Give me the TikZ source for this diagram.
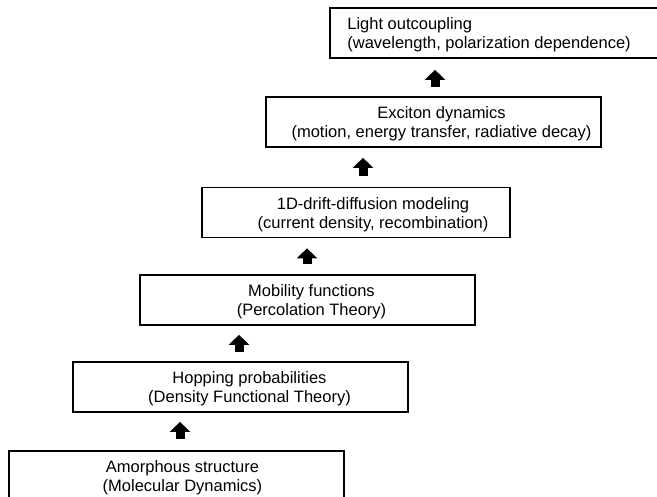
\documentclass[tikz,border=0pt]{standalone}
\usepackage{fontspec}
\setmainfont{Liberation Sans}
\usetikzlibrary{arrows.meta,calc}
\begin{document}
\begin{tikzpicture}[x=1pt,y=1pt,
  box/.style={draw=black, line width=1.7pt, rectangle, minimum height=50pt, inner sep=0pt},
  txt/.style={inner sep=0pt, align=center, font=\fontsize{16.5}{19}\selectfont},
  blk/.style={line width=9pt, -{Triangle[width=20pt,length=10pt]}, black}]
\useasboundingbox (0,0) rectangle (657,497);
\clip (0,0) rectangle (657,497);
% boxes
\node[box, minimum width=335pt] (b1) at (176.5,21) {};
\node[box, minimum width=335pt] (b2) at (240.5,110) {};
\node[box, minimum width=335pt] (b3) at (307.5,197) {};
\node[box, minimum width=308pt] (b4) at (356,284.5) {};
\node[box, minimum width=335pt] (b5) at (433.5,375) {};
\node[box, minimum width=335pt] (b6) at (497.5,464) {};
% texts
\node[txt] (t1) at ($(b1.center)+(6,-2)$) {Amorphous structure\\(Molecular Dynamics)};
\node[txt] (t2) at ($(b2.center)+(9,-2)$) {Hopping probabilities\\(Density Functional Theory)};
\node[txt] (t3) at ($(b3.center)+(4,-2)$) {Mobility functions\\(Percolation Theory)};
\node[txt] (t4) at ($(b4.center)+(17,-2)$) {1D-drift-diffusion modeling\\(current density, recombination)};
\node[txt] (t5) at ($(b5.center)+(8,-2)$) {Exciton dynamics\\(motion, energy transfer, radiative decay)};
\node[txt, align=left, anchor=west] (t6) at ($(b6.west)+(18,-2)$) {Light outcoupling\\(wavelength, polarization dependence)};
% block arrows
\draw[blk] ($(b1.north)+(3.5,11)$) -- ($(b1.north |- b2.south)+(3.5,-9)$);
\draw[blk] ($(b2.north)+(-1.5,9)$) -- ($(b2.north |- b3.south)+(-1.5,-9)$);
\draw[blk] ($(b3.north)+(-0.5,10)$) -- ($(b3.north |- b4.south)+(-0.5,-10)$);
\draw[blk] ($(b4.north)+(7,11)$) -- ($(b4.north |- b5.south)+(7,-10)$);
\draw[blk] ($(b5.north)+(1.5,9)$) -- ($(b5.north |- b6.south)+(1.5,-11)$);
\end{tikzpicture}
\end{document}
